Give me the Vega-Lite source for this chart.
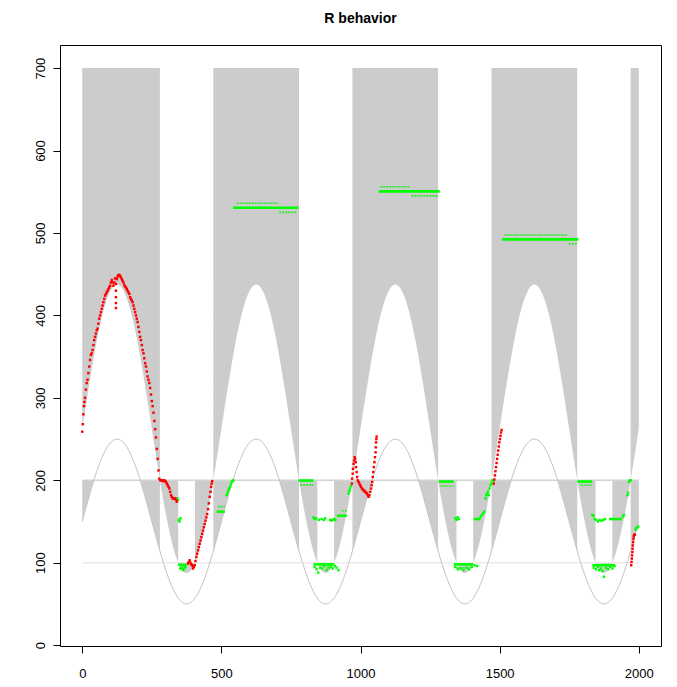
{
  "$schema": "https://vega.github.io/schema/vega-lite/v6.json",
  "width": 601,
  "height": 601,
  "autosize": "none",
  "padding": {"left": 60, "top": 45, "right": 16, "bottom": 41},
  "background": "white",
  "title": {"text": "R behavior", "font": "Liberation Sans", "fontSize": 14, "fontWeight": "bold", "color": "#000000", "anchor": "middle", "offset": 19},
  "config": {"view": {"stroke": "#000000", "strokeWidth": 1}},
  "datasets": {
    "shade": [
      {"g":"u0","x":0,"lo":262.5,"hi":700},{"g":"u0","x":25,"lo":316.6,"hi":700},{"g":"u0","x":50,"lo":365.4,"hi":700},{"g":"u0","x":75,"lo":404.1,"hi":700},{"g":"u0","x":100,"lo":428.9,"hi":700},{"g":"u0","x":112.5,"lo":435.4,"hi":700},{"g":"u0","x":125,"lo":437.5,"hi":700},{"g":"u0","x":137.5,"lo":435.4,"hi":700},{"g":"u0","x":150,"lo":428.9,"hi":700},{"g":"u0","x":175,"lo":404.1,"hi":700},{"g":"u0","x":200,"lo":365.4,"hi":700},{"g":"u0","x":225,"lo":316.6,"hi":700},{"g":"u0","x":250,"lo":262.5,"hi":700},{"g":"u0","x":262.5,"lo":235.2,"hi":700},{"g":"u0","x":275,"lo":208.4,"hi":700},{"g":"u0","x":279,"lo":200,"hi":700},
      {"g":"u1","x":471,"lo":200,"hi":700},{"g":"u1","x":475,"lo":208.4,"hi":700},{"g":"u1","x":487.5,"lo":235.2,"hi":700},{"g":"u1","x":500,"lo":262.5,"hi":700},{"g":"u1","x":525,"lo":316.6,"hi":700},{"g":"u1","x":550,"lo":365.4,"hi":700},{"g":"u1","x":575,"lo":404.1,"hi":700},{"g":"u1","x":600,"lo":428.9,"hi":700},{"g":"u1","x":612.5,"lo":435.4,"hi":700},{"g":"u1","x":625,"lo":437.5,"hi":700},{"g":"u1","x":637.5,"lo":435.4,"hi":700},{"g":"u1","x":650,"lo":428.9,"hi":700},{"g":"u1","x":675,"lo":404.1,"hi":700},{"g":"u1","x":700,"lo":365.4,"hi":700},{"g":"u1","x":725,"lo":316.6,"hi":700},{"g":"u1","x":750,"lo":262.5,"hi":700},{"g":"u1","x":762.5,"lo":235.2,"hi":700},{"g":"u1","x":775,"lo":208.4,"hi":700},{"g":"u1","x":779,"lo":200,"hi":700},
      {"g":"u2","x":971,"lo":200,"hi":700},{"g":"u2","x":975,"lo":208.4,"hi":700},{"g":"u2","x":987.5,"lo":235.2,"hi":700},{"g":"u2","x":1000,"lo":262.5,"hi":700},{"g":"u2","x":1025,"lo":316.6,"hi":700},{"g":"u2","x":1050,"lo":365.4,"hi":700},{"g":"u2","x":1075,"lo":404.1,"hi":700},{"g":"u2","x":1100,"lo":428.9,"hi":700},{"g":"u2","x":1112.5,"lo":435.4,"hi":700},{"g":"u2","x":1125,"lo":437.5,"hi":700},{"g":"u2","x":1137.5,"lo":435.4,"hi":700},{"g":"u2","x":1150,"lo":428.9,"hi":700},{"g":"u2","x":1175,"lo":404.1,"hi":700},{"g":"u2","x":1200,"lo":365.4,"hi":700},{"g":"u2","x":1225,"lo":316.6,"hi":700},{"g":"u2","x":1250,"lo":262.5,"hi":700},{"g":"u2","x":1262.5,"lo":235.2,"hi":700},{"g":"u2","x":1275,"lo":208.4,"hi":700},{"g":"u2","x":1279,"lo":200,"hi":700},
      {"g":"u3","x":1471,"lo":200,"hi":700},{"g":"u3","x":1475,"lo":208.4,"hi":700},{"g":"u3","x":1487.5,"lo":235.2,"hi":700},{"g":"u3","x":1500,"lo":262.5,"hi":700},{"g":"u3","x":1525,"lo":316.6,"hi":700},{"g":"u3","x":1550,"lo":365.4,"hi":700},{"g":"u3","x":1575,"lo":404.1,"hi":700},{"g":"u3","x":1600,"lo":428.9,"hi":700},{"g":"u3","x":1612.5,"lo":435.4,"hi":700},{"g":"u3","x":1625,"lo":437.5,"hi":700},{"g":"u3","x":1637.5,"lo":435.4,"hi":700},{"g":"u3","x":1650,"lo":428.9,"hi":700},{"g":"u3","x":1675,"lo":404.1,"hi":700},{"g":"u3","x":1700,"lo":365.4,"hi":700},{"g":"u3","x":1725,"lo":316.6,"hi":700},{"g":"u3","x":1750,"lo":262.5,"hi":700},{"g":"u3","x":1762.5,"lo":235.2,"hi":700},{"g":"u3","x":1775,"lo":208.4,"hi":700},{"g":"u3","x":1779,"lo":200,"hi":700},
      {"g":"u4","x":1971,"lo":200,"hi":700},{"g":"u4","x":1975,"lo":208.4,"hi":700},{"g":"u4","x":1987.5,"lo":235.2,"hi":700},{"g":"u4","x":2000,"lo":262.5,"hi":700},
      {"g":"w1a","x":279,"lo":200,"hi":200},{"g":"w1a","x":287.5,"lo":183.1,"hi":200},{"g":"w1a","x":300,"lo":159.6,"hi":200},{"g":"w1a","x":312.5,"lo":138.8,"hi":200},{"g":"w1a","x":325,"lo":120.9,"hi":200},{"g":"w1a","x":337.5,"lo":106.6,"hi":200},{"g":"w1a","x":344.9,"lo":100,"hi":200},
      {"g":"ba","x":344.9,"lo":100,"hi":100},{"g":"ba","x":350,"lo":96.1,"hi":100},{"g":"ba","x":362.5,"lo":89.6,"hi":100},{"g":"ba","x":375,"lo":87.5,"hi":100},{"g":"ba","x":387.5,"lo":89.6,"hi":100},{"g":"ba","x":400,"lo":96.1,"hi":100},{"g":"ba","x":405.1,"lo":100,"hi":100},
      {"g":"w2a","x":405.1,"lo":100,"hi":200},{"g":"w2a","x":412.5,"lo":106.6,"hi":200},{"g":"w2a","x":425,"lo":120.9,"hi":200},{"g":"w2a","x":437.5,"lo":138.8,"hi":200},{"g":"w2a","x":450,"lo":159.6,"hi":200},{"g":"w2a","x":462.5,"lo":183.1,"hi":200},{"g":"w2a","x":471,"lo":200,"hi":200},
      {"g":"w1b","x":779,"lo":200,"hi":200},{"g":"w1b","x":787.5,"lo":183.1,"hi":200},{"g":"w1b","x":800,"lo":159.6,"hi":200},{"g":"w1b","x":812.5,"lo":138.8,"hi":200},{"g":"w1b","x":825,"lo":120.9,"hi":200},{"g":"w1b","x":837.5,"lo":106.6,"hi":200},{"g":"w1b","x":844.9,"lo":100,"hi":200},
      {"g":"bb","x":844.9,"lo":100,"hi":100},{"g":"bb","x":850,"lo":96.1,"hi":100},{"g":"bb","x":862.5,"lo":89.6,"hi":100},{"g":"bb","x":875,"lo":87.5,"hi":100},{"g":"bb","x":887.5,"lo":89.6,"hi":100},{"g":"bb","x":900,"lo":96.1,"hi":100},{"g":"bb","x":905.1,"lo":100,"hi":100},
      {"g":"w2b","x":905.1,"lo":100,"hi":200},{"g":"w2b","x":912.5,"lo":106.6,"hi":200},{"g":"w2b","x":925,"lo":120.9,"hi":200},{"g":"w2b","x":937.5,"lo":138.8,"hi":200},{"g":"w2b","x":950,"lo":159.6,"hi":200},{"g":"w2b","x":962.5,"lo":183.1,"hi":200},{"g":"w2b","x":971,"lo":200,"hi":200},
      {"g":"w1c","x":1279,"lo":200,"hi":200},{"g":"w1c","x":1287.5,"lo":183.1,"hi":200},{"g":"w1c","x":1300,"lo":159.6,"hi":200},{"g":"w1c","x":1312.5,"lo":138.8,"hi":200},{"g":"w1c","x":1325,"lo":120.9,"hi":200},{"g":"w1c","x":1337.5,"lo":106.6,"hi":200},{"g":"w1c","x":1344.9,"lo":100,"hi":200},
      {"g":"bc","x":1344.9,"lo":100,"hi":100},{"g":"bc","x":1350,"lo":96.1,"hi":100},{"g":"bc","x":1362.5,"lo":89.6,"hi":100},{"g":"bc","x":1375,"lo":87.5,"hi":100},{"g":"bc","x":1387.5,"lo":89.6,"hi":100},{"g":"bc","x":1400,"lo":96.1,"hi":100},{"g":"bc","x":1405.1,"lo":100,"hi":100},
      {"g":"w2c","x":1405.1,"lo":100,"hi":200},{"g":"w2c","x":1412.5,"lo":106.6,"hi":200},{"g":"w2c","x":1425,"lo":120.9,"hi":200},{"g":"w2c","x":1437.5,"lo":138.8,"hi":200},{"g":"w2c","x":1450,"lo":159.6,"hi":200},{"g":"w2c","x":1462.5,"lo":183.1,"hi":200},{"g":"w2c","x":1471,"lo":200,"hi":200},
      {"g":"w1d","x":1779,"lo":200,"hi":200},{"g":"w1d","x":1787.5,"lo":183.1,"hi":200},{"g":"w1d","x":1800,"lo":159.6,"hi":200},{"g":"w1d","x":1812.5,"lo":138.8,"hi":200},{"g":"w1d","x":1825,"lo":120.9,"hi":200},{"g":"w1d","x":1837.5,"lo":106.6,"hi":200},{"g":"w1d","x":1844.9,"lo":100,"hi":200},
      {"g":"bd","x":1844.9,"lo":100,"hi":100},{"g":"bd","x":1850,"lo":96.1,"hi":100},{"g":"bd","x":1862.5,"lo":89.6,"hi":100},{"g":"bd","x":1875,"lo":87.5,"hi":100},{"g":"bd","x":1887.5,"lo":89.6,"hi":100},{"g":"bd","x":1900,"lo":96.1,"hi":100},{"g":"bd","x":1905.1,"lo":100,"hi":100},
      {"g":"w2d","x":1905.1,"lo":100,"hi":200},{"g":"w2d","x":1912.5,"lo":106.6,"hi":200},{"g":"w2d","x":1925,"lo":120.9,"hi":200},{"g":"w2d","x":1937.5,"lo":138.8,"hi":200},{"g":"w2d","x":1950,"lo":159.6,"hi":200},{"g":"w2d","x":1962.5,"lo":183.1,"hi":200},{"g":"w2d","x":1971,"lo":200,"hi":200},
      {"g":"sa","x":0,"lo":150,"hi":200},{"g":"sa","x":12.5,"lo":165.6,"hi":200},{"g":"sa","x":25,"lo":180.9,"hi":200},{"g":"sa","x":37.5,"lo":195.4,"hi":200},{"g":"sa","x":41.7,"lo":200,"hi":200},
      {"g":"sb0","x":208.3,"lo":200,"hi":200},{"g":"sb0","x":212.5,"lo":195.4,"hi":200},{"g":"sb0","x":225,"lo":180.9,"hi":200},{"g":"sb0","x":237.5,"lo":165.6,"hi":200},{"g":"sb0","x":250,"lo":150,"hi":200},{"g":"sb0","x":262.5,"lo":134.4,"hi":200},{"g":"sb0","x":275,"lo":119.1,"hi":200},{"g":"sb0","x":279,"lo":114.3,"hi":200},
      {"g":"sb1","x":708.3,"lo":200,"hi":200},{"g":"sb1","x":712.5,"lo":195.4,"hi":200},{"g":"sb1","x":725,"lo":180.9,"hi":200},{"g":"sb1","x":737.5,"lo":165.6,"hi":200},{"g":"sb1","x":750,"lo":150,"hi":200},{"g":"sb1","x":762.5,"lo":134.4,"hi":200},{"g":"sb1","x":775,"lo":119.1,"hi":200},{"g":"sb1","x":779,"lo":114.3,"hi":200},
      {"g":"sb2","x":1208.3,"lo":200,"hi":200},{"g":"sb2","x":1212.5,"lo":195.4,"hi":200},{"g":"sb2","x":1225,"lo":180.9,"hi":200},{"g":"sb2","x":1237.5,"lo":165.6,"hi":200},{"g":"sb2","x":1250,"lo":150,"hi":200},{"g":"sb2","x":1262.5,"lo":134.4,"hi":200},{"g":"sb2","x":1275,"lo":119.1,"hi":200},{"g":"sb2","x":1279,"lo":114.3,"hi":200},
      {"g":"sb3","x":1708.3,"lo":200,"hi":200},{"g":"sb3","x":1712.5,"lo":195.4,"hi":200},{"g":"sb3","x":1725,"lo":180.9,"hi":200},{"g":"sb3","x":1737.5,"lo":165.6,"hi":200},{"g":"sb3","x":1750,"lo":150,"hi":200},{"g":"sb3","x":1762.5,"lo":134.4,"hi":200},{"g":"sb3","x":1775,"lo":119.1,"hi":200},{"g":"sb3","x":1779,"lo":114.3,"hi":200},
      {"g":"sc0","x":471,"lo":114.3,"hi":200},{"g":"sc0","x":475,"lo":119.1,"hi":200},{"g":"sc0","x":487.5,"lo":134.4,"hi":200},{"g":"sc0","x":500,"lo":150,"hi":200},{"g":"sc0","x":512.5,"lo":165.6,"hi":200},{"g":"sc0","x":525,"lo":180.9,"hi":200},{"g":"sc0","x":537.5,"lo":195.4,"hi":200},{"g":"sc0","x":541.7,"lo":200,"hi":200},
      {"g":"sc1","x":971,"lo":114.3,"hi":200},{"g":"sc1","x":975,"lo":119.1,"hi":200},{"g":"sc1","x":987.5,"lo":134.4,"hi":200},{"g":"sc1","x":1000,"lo":150,"hi":200},{"g":"sc1","x":1012.5,"lo":165.6,"hi":200},{"g":"sc1","x":1025,"lo":180.9,"hi":200},{"g":"sc1","x":1037.5,"lo":195.4,"hi":200},{"g":"sc1","x":1041.7,"lo":200,"hi":200},
      {"g":"sc2","x":1471,"lo":114.3,"hi":200},{"g":"sc2","x":1475,"lo":119.1,"hi":200},{"g":"sc2","x":1487.5,"lo":134.4,"hi":200},{"g":"sc2","x":1500,"lo":150,"hi":200},{"g":"sc2","x":1512.5,"lo":165.6,"hi":200},{"g":"sc2","x":1525,"lo":180.9,"hi":200},{"g":"sc2","x":1537.5,"lo":195.4,"hi":200},{"g":"sc2","x":1541.7,"lo":200,"hi":200},
      {"g":"sc3","x":1971,"lo":114.3,"hi":200},{"g":"sc3","x":1975,"lo":119.1,"hi":200},{"g":"sc3","x":1987.5,"lo":134.4,"hi":200},{"g":"sc3","x":2000,"lo":150,"hi":200}
    ],
    "sine": [
      {"x":0,"s":150},{"x":25,"s":180.9},{"x":50,"s":208.8},{"x":75,"s":230.9},{"x":100,"s":245.1},{"x":125,"s":250},{"x":150,"s":245.1},{"x":175,"s":230.9},{"x":200,"s":208.8},{"x":225,"s":180.9},{"x":250,"s":150},{"x":275,"s":119.1},{"x":300,"s":91.2},{"x":325,"s":69.1},{"x":350,"s":54.9},{"x":375,"s":50},{"x":400,"s":54.9},{"x":425,"s":69.1},{"x":450,"s":91.2},{"x":475,"s":119.1},
      {"x":500,"s":150},{"x":525,"s":180.9},{"x":550,"s":208.8},{"x":575,"s":230.9},{"x":600,"s":245.1},{"x":625,"s":250},{"x":650,"s":245.1},{"x":675,"s":230.9},{"x":700,"s":208.8},{"x":725,"s":180.9},{"x":750,"s":150},{"x":775,"s":119.1},{"x":800,"s":91.2},{"x":825,"s":69.1},{"x":850,"s":54.9},{"x":875,"s":50},{"x":900,"s":54.9},{"x":925,"s":69.1},{"x":950,"s":91.2},{"x":975,"s":119.1},
      {"x":1000,"s":150},{"x":1025,"s":180.9},{"x":1050,"s":208.8},{"x":1075,"s":230.9},{"x":1100,"s":245.1},{"x":1125,"s":250},{"x":1150,"s":245.1},{"x":1175,"s":230.9},{"x":1200,"s":208.8},{"x":1225,"s":180.9},{"x":1250,"s":150},{"x":1275,"s":119.1},{"x":1300,"s":91.2},{"x":1325,"s":69.1},{"x":1350,"s":54.9},{"x":1375,"s":50},{"x":1400,"s":54.9},{"x":1425,"s":69.1},{"x":1450,"s":91.2},{"x":1475,"s":119.1},
      {"x":1500,"s":150},{"x":1525,"s":180.9},{"x":1550,"s":208.8},{"x":1575,"s":230.9},{"x":1600,"s":245.1},{"x":1625,"s":250},{"x":1650,"s":245.1},{"x":1675,"s":230.9},{"x":1700,"s":208.8},{"x":1725,"s":180.9},{"x":1750,"s":150},{"x":1775,"s":119.1},{"x":1800,"s":91.2},{"x":1825,"s":69.1},{"x":1850,"s":54.9},{"x":1875,"s":50},{"x":1900,"s":54.9},{"x":1925,"s":69.1},{"x":1950,"s":91.2},{"x":1975,"s":119.1},{"x":2000,"s":150}
    ],
    "red": [
      {"x":0,"y":259},{"x":2,"y":268},{"x":4,"y":280},{"x":6,"y":290},{"x":8,"y":295},{"x":10,"y":300},{"x":13,"y":310},{"x":16,"y":318},{"x":19,"y":322},{"x":22,"y":330},{"x":25,"y":338},{"x":28,"y":346},{"x":31,"y":352},{"x":34,"y":354},{"x":37,"y":358},{"x":40,"y":364},{"x":43,"y":370},{"x":46,"y":374},{"x":49,"y":378},{"x":52,"y":382},{"x":55,"y":384},{"x":58,"y":390},{"x":61,"y":396},{"x":64,"y":400},{"x":67,"y":404},{"x":70,"y":408},{"x":73,"y":412},{"x":76,"y":416},{"x":79,"y":420},{"x":82,"y":424},{"x":85,"y":426},{"x":88,"y":428},{"x":91,"y":430},{"x":94,"y":432},{"x":97,"y":434},{"x":100,"y":436},{"x":103,"y":440},{"x":106,"y":443},{"x":109,"y":440},{"x":112,"y":436},{"x":115,"y":440},{"x":118,"y":445},{"x":121,"y":438},{"x":121,"y":430},{"x":121,"y":422},{"x":121,"y":415},{"x":121,"y":409},{"x":124,"y":444},{"x":127,"y":447},{"x":130,"y":449},{"x":133,"y":449},{"x":136,"y":448},{"x":139,"y":446},{"x":142,"y":444},{"x":145,"y":442},{"x":148,"y":440},{"x":151,"y":437},{"x":154,"y":435},{"x":157,"y":434},{"x":160,"y":432},{"x":163,"y":430},{"x":166,"y":428},{"x":169,"y":426},{"x":172,"y":422},{"x":175,"y":420},{"x":178,"y":418},{"x":181,"y":416},{"x":184,"y":412},{"x":187,"y":408},{"x":190,"y":404},{"x":193,"y":400},{"x":196,"y":396},{"x":199,"y":392},{"x":202,"y":386},{"x":205,"y":380},{"x":208,"y":374},{"x":211,"y":370},{"x":214,"y":364},{"x":217,"y":358},{"x":220,"y":354},{"x":223,"y":348},{"x":226,"y":342},{"x":229,"y":338},{"x":232,"y":332},{"x":235,"y":326},{"x":238,"y":322},{"x":241,"y":318},{"x":244,"y":312},{"x":247,"y":304},{"x":250,"y":296},{"x":253,"y":290},{"x":256,"y":282},{"x":259,"y":272},{"x":262,"y":262},{"x":265,"y":252},{"x":268,"y":238},{"x":271,"y":226},{"x":274,"y":212},{"x":277,"y":202},{"x":280,"y":200},{"x":283,"y":200},{"x":286,"y":200},{"x":289,"y":200},{"x":292,"y":199},{"x":295,"y":200},{"x":298,"y":199},{"x":301,"y":198},{"x":304,"y":196},{"x":307,"y":194},{"x":310,"y":192},{"x":313,"y":190},{"x":316,"y":186},{"x":319,"y":182},{"x":322,"y":180},{"x":325,"y":178},{"x":328,"y":178},{"x":331,"y":178},{"x":334,"y":178},{"x":337,"y":176},{"x":340,"y":174},
      {"x":380,"y":99},{"x":383,"y":101},{"x":386,"y":103},{"x":389,"y":100},{"x":392,"y":98},{"x":395,"y":97},{"x":398,"y":93},{"x":398,"y":96},{"x":401,"y":95},{"x":404,"y":97},{"x":407,"y":102},{"x":410,"y":107},{"x":413,"y":111},{"x":416,"y":115},{"x":419,"y":119},{"x":422,"y":123},{"x":425,"y":127},{"x":428,"y":131},{"x":431,"y":135},{"x":434,"y":139},{"x":437,"y":143},{"x":440,"y":147},{"x":443,"y":151},{"x":446,"y":155},{"x":449,"y":159},{"x":452,"y":165},{"x":455,"y":172},{"x":458,"y":180},{"x":461,"y":186},{"x":463,"y":192},{"x":465,"y":196},{"x":467,"y":199},
      {"x":969,"y":196},{"x":970,"y":202},{"x":972,"y":208},{"x":973,"y":214},{"x":975,"y":220},{"x":977,"y":224},{"x":979,"y":228},{"x":981,"y":226},{"x":983,"y":222},{"x":984,"y":216},{"x":986,"y":210},{"x":988,"y":204},{"x":990,"y":200},{"x":993,"y":198},{"x":996,"y":196},{"x":999,"y":194},{"x":1002,"y":192},{"x":1005,"y":190},{"x":1008,"y":189},{"x":1011,"y":188},{"x":1014,"y":187},{"x":1017,"y":186},{"x":1020,"y":185},{"x":1023,"y":184},{"x":1026,"y":182},{"x":1029,"y":180},{"x":1032,"y":182},{"x":1035,"y":186},{"x":1038,"y":190},{"x":1040,"y":194},{"x":1042,"y":198},{"x":1044,"y":204},{"x":1046,"y":210},{"x":1048,"y":216},{"x":1050,"y":222},{"x":1052,"y":228},{"x":1054,"y":234},{"x":1055,"y":240},{"x":1056,"y":246},{"x":1057,"y":250},{"x":1058,"y":253},
      {"x":1479,"y":196},{"x":1481,"y":201},{"x":1483,"y":206},{"x":1485,"y":211},{"x":1487,"y":216},{"x":1489,"y":221},{"x":1491,"y":226},{"x":1493,"y":231},{"x":1495,"y":236},{"x":1497,"y":241},{"x":1499,"y":246},{"x":1501,"y":250},{"x":1503,"y":254},{"x":1505,"y":258},{"x":1507,"y":261},
      {"x":1973,"y":97},{"x":1974,"y":101},{"x":1975,"y":105},{"x":1976,"y":109},{"x":1977,"y":113},{"x":1978,"y":117},{"x":1979,"y":121},{"x":1980,"y":125},{"x":1981,"y":129},{"x":1982,"y":132},{"x":1984,"y":134},{"x":1986,"y":134}
    ],
    "green": [
      {"x":341,"y":178},{"x":344,"y":176},{"x":347,"y":152},{"x":350,"y":150},{"x":353,"y":154},{"x":352,"y":93},{"x":358,"y":94},{"x":362,"y":91},{"x":366,"y":93},{"x":371,"y":95},
      {"x":519,"y":182},{"x":522,"y":185},{"x":525,"y":188},{"x":528,"y":190},{"x":531,"y":192},{"x":534,"y":195},{"x":537,"y":198},{"x":540,"y":199},{"x":543,"y":200},
      {"x":831,"y":155},{"x":835,"y":153},{"x":840,"y":154},{"x":850,"y":152},{"x":860,"y":153},{"x":868,"y":152},{"x":873,"y":154},{"x":891,"y":152},{"x":895,"y":151},{"x":900,"y":152},{"x":905,"y":153},{"x":909,"y":152},
      {"x":835,"y":95},{"x":842,"y":92},{"x":848,"y":88},{"x":855,"y":94},{"x":862,"y":93},{"x":870,"y":96},{"x":878,"y":91},{"x":885,"y":94},{"x":893,"y":95},{"x":900,"y":93},{"x":908,"y":96},{"x":914,"y":94},{"x":921,"y":91},
      {"x":957,"y":184},{"x":960,"y":187},{"x":963,"y":190},{"x":966,"y":193},
      {"x":1341,"y":154},{"x":1345,"y":152},{"x":1349,"y":155},{"x":1353,"y":153},{"x":1340,"y":95},{"x":1350,"y":92},{"x":1360,"y":93},{"x":1370,"y":91},{"x":1380,"y":94},{"x":1390,"y":92},{"x":1400,"y":95},{"x":1410,"y":97},{"x":1419,"y":96},
      {"x":1432,"y":156},{"x":1437,"y":158},{"x":1441,"y":160},{"x":1445,"y":162},{"x":1449,"y":178},{"x":1452,"y":182},{"x":1455,"y":184},{"x":1458,"y":186},{"x":1461,"y":182},{"x":1464,"y":190},{"x":1467,"y":194},{"x":1470,"y":196},{"x":1473,"y":200},{"x":1476,"y":199},{"x":1479,"y":200},
      {"x":1833,"y":158},{"x":1837,"y":157},{"x":1841,"y":153},{"x":1847,"y":152},{"x":1853,"y":150},{"x":1859,"y":152},{"x":1866,"y":151},{"x":1873,"y":152},{"x":1879,"y":153},
      {"x":1838,"y":94},{"x":1846,"y":92},{"x":1852,"y":95},{"x":1858,"y":91},{"x":1864,"y":93},{"x":1870,"y":90},{"x":1875,"y":83},{"x":1882,"y":94},{"x":1890,"y":92},{"x":1898,"y":95},{"x":1906,"y":93},{"x":1913,"y":96},
      {"x":1944,"y":156},{"x":1947,"y":158},{"x":1959,"y":182},{"x":1962,"y":185},{"x":1965,"y":198},{"x":1968,"y":200},{"x":1971,"y":200},
      {"x":1989,"y":140},{"x":1992,"y":142},{"x":1995,"y":143},{"x":1998,"y":144}
    ],
    "greenRuns": [
      {"x":483,"x2":513,"y":162},{"x":344,"x2":375,"y":97.5},
      {"x":542,"x2":777,"y":530.5},{"x":777,"x2":831,"y":199.7},{"x":831,"x2":906,"y":98},{"x":915,"x2":951,"y":157},
      {"x":1065,"x2":1285,"y":550.4},{"x":1281,"x2":1335,"y":198.5},{"x":1335,"x2":1405,"y":98},{"x":1407,"x2":1432,"y":153},
      {"x":1509,"x2":1783,"y":492.2},{"x":1779,"x2":1833,"y":198.5},{"x":1833,"x2":1915,"y":97},{"x":1893,"x2":1940,"y":153}
    ],
    "greenDots": [
      {"x":489,"x2":513,"y":168},
      {"x":555,"x2":705,"y":536},{"x":708,"x2":771,"y":525},{"x":783,"x2":831,"y":194.4},{"x":933,"x2":951,"y":163},
      {"x":1071,"x2":1179,"y":556},{"x":1183,"x2":1277,"y":545},{"x":1287,"x2":1335,"y":193},{"x":1342,"x2":1398,"y":94},
      {"x":1518,"x2":1744,"y":497.5},{"x":1749,"x2":1780,"y":487},{"x":1791,"x2":1833,"y":194}
    ]
  },
  "layer": [
    {
      "data": {"name": "shade"},
      "mark": {"type": "area", "color": "#cccccc", "interpolate": "monotone"},
      "encoding": {
        "x": {"field": "x", "type": "quantitative", "title": null, "scale": {"domain": [-80, 2080], "nice": false, "zero": false},
              "axis": {"values": [0, 500, 1000, 1500, 2000], "format": "d", "grid": false, "domain": false, "tickSize": 7, "tickColor": "#000000", "labelFont": "Liberation Sans", "labelFontSize": 13, "labelColor": "#000000", "labelPadding": 14, "labelFlush": false, "labelOverlap": false}},
        "y": {"field": "lo", "type": "quantitative", "title": null, "scale": {"domain": [-1, 728], "nice": false, "zero": false},
              "axis": {"values": [0, 100, 200, 300, 400, 500, 600, 700], "format": "d", "grid": false, "domain": false, "tickSize": 7, "tickColor": "#000000", "labelFont": "Liberation Sans", "labelFontSize": 13, "labelColor": "#000000", "labelAngle": 270, "labelAlign": "center", "labelBaseline": "bottom", "labelPadding": 6, "labelFlush": false, "labelOverlap": false}},
        "y2": {"field": "hi"},
        "detail": {"field": "g", "type": "nominal"}
      }
    },
    {
      "data": {"values": [{"x": 0, "x2": 2000, "y": 200}]},
      "mark": {"type": "rule", "color": "#d3d3d3", "strokeWidth": 1.4},
      "encoding": {
        "x": {"field": "x", "type": "quantitative", "title": null, "scale": {"domain": [-80, 2080], "nice": false, "zero": false}},
        "x2": {"field": "x2"},
        "y": {"field": "y", "type": "quantitative", "title": null, "scale": {"domain": [-1, 728], "nice": false, "zero": false}}
      }
    },
    {
      "data": {"values": [{"x": 0, "x2": 2000, "y": 100}]},
      "mark": {"type": "rule", "color": "#ebebeb", "strokeWidth": 1.6},
      "encoding": {
        "x": {"field": "x", "type": "quantitative", "title": null, "scale": {"domain": [-80, 2080], "nice": false, "zero": false}},
        "x2": {"field": "x2"},
        "y": {"field": "y", "type": "quantitative", "title": null, "scale": {"domain": [-1, 728], "nice": false, "zero": false}}
      }
    },
    {
      "data": {"name": "sine"},
      "mark": {"type": "line", "color": "#c4c4c4", "strokeWidth": 1, "interpolate": "monotone"},
      "encoding": {
        "x": {"field": "x", "type": "quantitative", "title": null, "scale": {"domain": [-80, 2080], "nice": false, "zero": false}},
        "y": {"field": "s", "type": "quantitative", "title": null, "scale": {"domain": [-1, 728], "nice": false, "zero": false}}
      }
    },
    {
      "data": {"name": "greenRuns"},
      "mark": {"type": "rule", "color": "#00ff00", "strokeWidth": 2.6},
      "encoding": {
        "x": {"field": "x", "type": "quantitative", "title": null, "scale": {"domain": [-80, 2080], "nice": false, "zero": false}},
        "x2": {"field": "x2"},
        "y": {"field": "y", "type": "quantitative", "title": null, "scale": {"domain": [-1, 728], "nice": false, "zero": false}}
      }
    },
    {
      "data": {"name": "greenDots"},
      "mark": {"type": "rule", "color": "#22ee22", "strokeWidth": 1.6, "strokeDash": [2, 1]},
      "encoding": {
        "x": {"field": "x", "type": "quantitative", "title": null, "scale": {"domain": [-80, 2080], "nice": false, "zero": false}},
        "x2": {"field": "x2"},
        "y": {"field": "y", "type": "quantitative", "title": null, "scale": {"domain": [-1, 728], "nice": false, "zero": false}}
      }
    },
    {
      "data": {"name": "green"},
      "mark": {"type": "point", "shape": "square", "filled": true, "size": 6, "color": "#00ff00", "opacity": 1},
      "encoding": {
        "x": {"field": "x", "type": "quantitative", "title": null, "scale": {"domain": [-80, 2080], "nice": false, "zero": false}},
        "y": {"field": "y", "type": "quantitative", "title": null, "scale": {"domain": [-1, 728], "nice": false, "zero": false}}
      }
    },
    {
      "data": {"name": "red"},
      "mark": {"type": "point", "shape": "square", "filled": true, "size": 6, "color": "#ff0000", "opacity": 1},
      "encoding": {
        "x": {"field": "x", "type": "quantitative", "title": null, "scale": {"domain": [-80, 2080], "nice": false, "zero": false}},
        "y": {"field": "y", "type": "quantitative", "title": null, "scale": {"domain": [-1, 728], "nice": false, "zero": false}}
      }
    }
  ]
}
